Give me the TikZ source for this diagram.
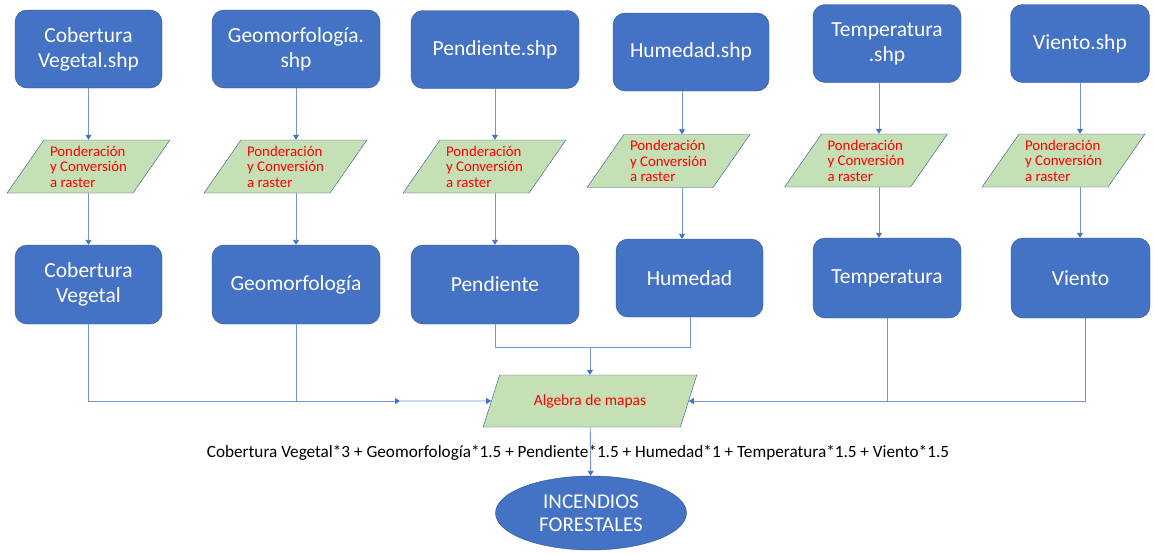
\documentclass[tikz,border=0pt]{standalone}
\usepackage{fontspec}
\setmainfont{Carlito}
\usetikzlibrary{shapes.geometric,arrows.meta}
\definecolor{boxblue}{HTML}{4472C4}
\definecolor{boxedge}{HTML}{2F528F}
\definecolor{pongreen}{HTML}{C5E0B4}
\definecolor{flowblue}{HTML}{7396D4}
\tikzset{shpbox/.style={rectangle, rounded corners=12pt, draw=boxedge, fill=boxblue,
         text=white, align=center, font=\fontsize{21.5}{25}\selectfont,
         minimum height=78pt, inner sep=2pt}}
\tikzset{ponbox/.style={trapezium, trapezium left angle=53, trapezium right angle=127,
         trapezium stretches=true, draw=boxedge, fill=pongreen, text=red,
         align=left, font=\fontsize{14.8}{15.5}\selectfont,
         minimum width=163pt, minimum height=53pt, inner sep=1pt}}
\tikzset{link/.style={draw=flowblue, line width=0.9pt},
         flow/.style={link, -{Triangle[width=6pt,length=5pt,color=boxblue]}}}

\begin{document}
\begin{tikzpicture}[x=1pt,y=-1pt]
    \useasboundingbox (0,0) rectangle (1154,554);
    % shapefiles
    \node[shpbox, minimum width=147pt] (vegshp) at (88.5,49) {Cobertura\\Vegetal.shp};
    \node[shpbox, minimum width=168pt] (geoshp) at (296,49) {Geomorfología.\\shp};
    \node[shpbox, minimum width=168pt] (penshp) at (495,49.5) {Pendiente.shp};
    \node[shpbox, minimum width=156pt] (humshp) at (691,52) {Humedad.shp};
    \node[shpbox, minimum width=148pt] (temshp) at (887,43.5) {Temperatura\\.shp};
    \node[shpbox, minimum width=139pt] (vieshp) at (1080,43.5) {Viento.shp};
    % ponderacion y conversion
    \node[ponbox] (vegpon) at (88.5,166.5) {Ponderación\\y Conversión\\a raster};
    \node[ponbox] (geopon) at (285.5,166.5) {Ponderación\\y Conversión\\a raster};
    \node[ponbox] (penpon) at (484.5,166.5) {Ponderación\\y Conversión\\a raster};
    \node[ponbox] (humpon) at (668.5,161) {Ponderación\\y Conversión\\a raster};
    \node[ponbox] (tempon) at (866,160.5) {Ponderación\\y Conversión\\a raster};
    \node[ponbox] (viepon) at (1063.5,160.5) {Ponderación\\y Conversión\\a raster};
    % rasters
    \node[shpbox, minimum width=147pt, minimum height=79pt] (veg) at (88.5,284.5) {Cobertura\\Vegetal};
    \node[shpbox, minimum width=168pt, minimum height=79pt] (geo) at (296,284.5) {Geomorfología};
    \node[shpbox, minimum width=168pt, minimum height=79pt] (pen) at (495,284.5) {Pendiente};
    \node[shpbox, minimum width=147pt] (hum) at (689.5,278) {Humedad};
    \node[shpbox, minimum width=148pt, minimum height=80pt] (tem) at (887,278) {Temperatura};
    \node[shpbox, minimum width=139pt, minimum height=80pt] (vie) at (1080.5,278) {Viento};
    % algebra y resultado
    \node[ponbox, minimum width=214pt, minimum height=52pt, trapezium left angle=56,
          trapezium right angle=124, font=\fontsize{15.5}{17}\selectfont] (alg) at (590,401) {Algebra de mapas};
    \node[font=\fontsize{17.2}{20}\selectfont] (formula) at (578,453)
      {Cobertura Vegetal*3 + Geomorfología*1.5 + Pendiente*1.5 + Humedad*1 + Temperatura*1.5 + Viento*1.5};
    \node[ellipse, draw=boxedge, fill=boxblue, text=white, align=center,
          font=\fontsize{21}{23}\selectfont, minimum width=191pt, minimum height=74pt,
          inner sep=0pt] (inc) at (591,513) {INCENDIOS\\FORESTALES};

    \draw[flow] (vegshp) -- (vegshp |- vegpon.north);
    \draw[flow] (geoshp) -- (geoshp |- geopon.north);
    \draw[flow] (penshp) -- (penshp |- penpon.north);
    \draw[flow] ([xshift=-9pt]humshp.south) -- ([xshift=-9pt]humshp.south |- humpon.north);
    \draw[flow] ([xshift=-8pt]temshp.south) -- ([xshift=-8pt]temshp.south |- tempon.north);
    \draw[flow] (vieshp) -- (vieshp |- viepon.north);
    \draw[flow] (vegshp |- vegpon.south) -- (vegshp |- veg.north);
    \draw[flow] (geoshp |- geopon.south) -- (geoshp |- geo.north);
    \draw[flow] (penshp |- penpon.south) -- (penshp |- pen.north);
    \draw[flow] ([xshift=-9pt]humshp.south |- humpon.south) -- ([xshift=-9pt]humshp.south |- hum.north);
    \draw[flow] ([xshift=-8pt]temshp.south |- tempon.south) -- ([xshift=-8pt]temshp.south |- tem.north);
    \draw[flow] (vieshp |- viepon.south) -- (vieshp |- vie.north);

    % hacia el algebra
    \coordinate (jleft) at (400,401);
    \coordinate (jmid) at (590,347);
    \draw[flow] (veg) |- (jleft);
    \draw[link] (geo) -- (geo |- jleft);
    \draw[flow] (jleft) -- (alg.west);
    \draw[link] (pen) |- (jmid);
    \draw[link] ([xshift=1pt]hum.south) |- (jmid);
    \draw[flow] (jmid) -- (jmid |- alg.north);
    \draw[flow] ([xshift=5pt]vie.south) |- (alg.east);
    \draw[link] (tem) -- (tem |- alg.east);
    \draw[flow] (alg) -- (inc);
\end{tikzpicture}
\end{document}
